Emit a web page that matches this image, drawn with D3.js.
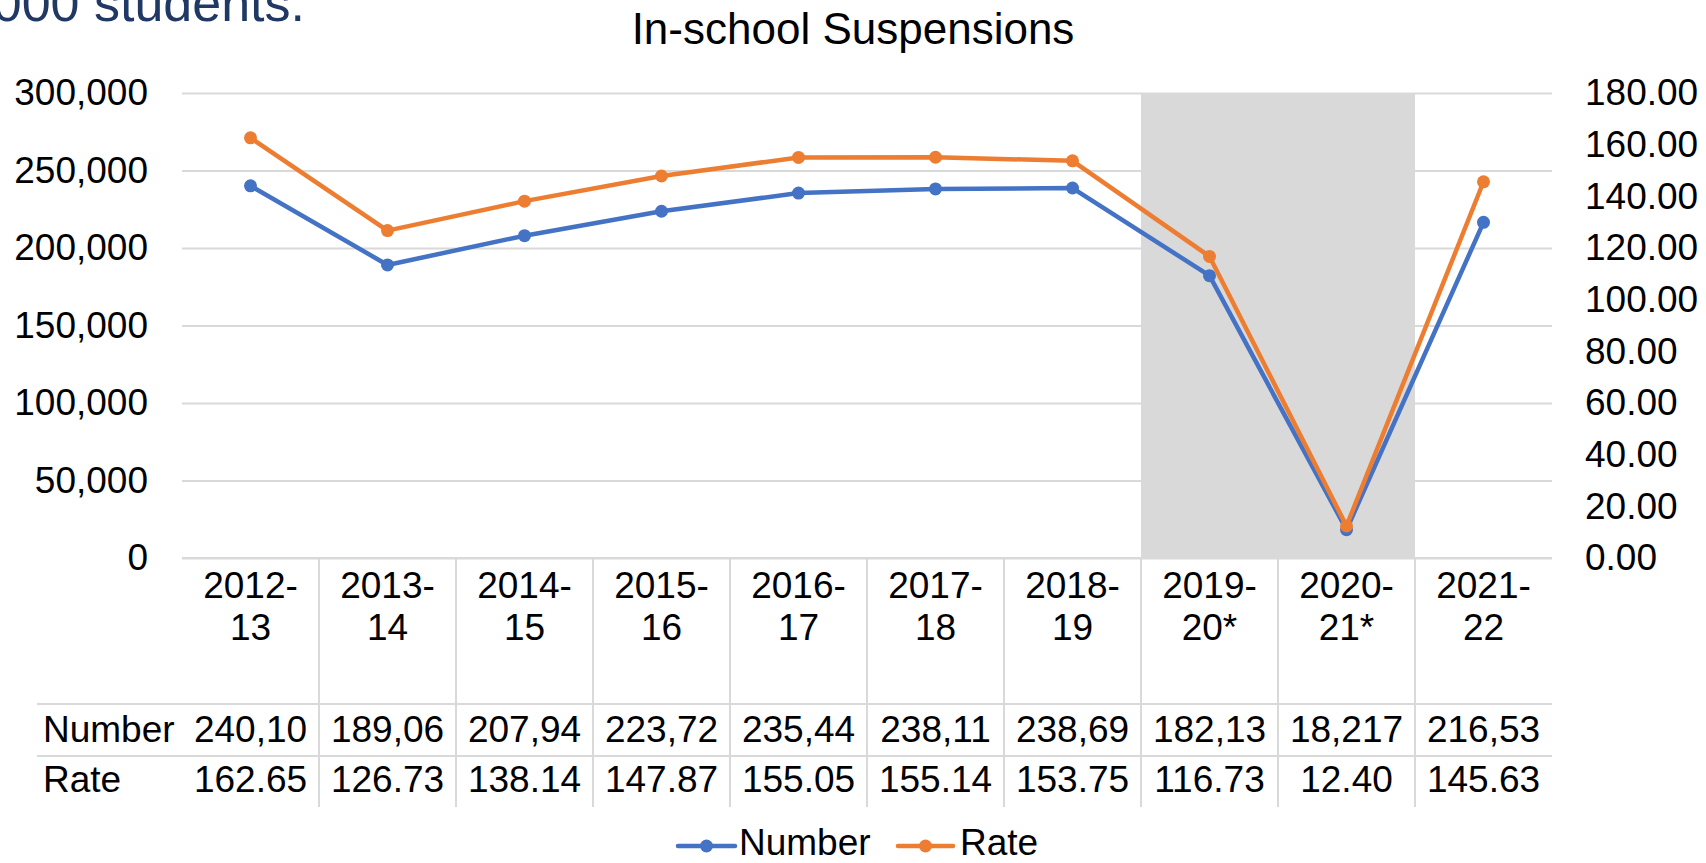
<!DOCTYPE html>
<html>
<head>
<meta charset="utf-8">
<script src="https://cdn.jsdelivr.net/npm/d3@7"></script>
<style>
  body { margin: 0; background: #fff; }
  svg { display: block; font-family: Arial, "Liberation Sans", sans-serif; }
</style>
</head>
<body>
<script>
// school years (header lines split at the dash)
let years = ["2012-13", "2013-14", "2014-15", "2015-16", "2016-17", "2017-18", "2018-19", "2019-20*", "2020-21*", "2021-22"];
// number of in-school suspensions (last digit not readable, table cells clip it)
let numbers = [240104, 189063, 207945, 223725, 235445, 238115, 238695, 182135, 18217, 216535];
// rate
let rates = [162.65, 126.73, 138.14, 147.87, 155.05, 155.14, 153.75, 116.73, 12.40, 145.63];
// covid years get a grey band
let shaded = ["2019-20*", "2020-21*"];
let leftTicks = [0, 50000, 100000, 150000, 200000, 250000, 300000];
let rightTicks = [0, 20, 40, 60, 80, 100, 120, 140, 160, 180];

function init() {
    let W = 1706, H = 863;
    let left = 182, right = 1552, top = 93, bottom = 558;
    let blue = "#4472c4", orange = "#ed7d31", grid = "#d9d9d9";
    let fs = 37;

    const svg = d3.select("body").append("svg")
        .attr("width", W)
        .attr("height", H);

    let x = d3.scaleBand().domain(years).range([left, right]).padding(0);
    let yL = d3.scaleLinear().domain([0, 300000]).range([bottom, top]);
    let yR = d3.scaleLinear().domain([0, 180]).range([bottom, top]);
    let cx = d => x(d) + x.bandwidth() / 2;

    // cut-off slide text at top left
    svg.append("text")
        .attr("x", 305).attr("y", 21)
        .attr("text-anchor", "end")
        .attr("font-size", "52px")
        .attr("fill", "#1f3864")
        .text("000 students.");

    svg.append("text")
        .attr("x", 853).attr("y", 44)
        .attr("text-anchor", "middle")
        .attr("font-size", "44px")
        .attr("fill", "#000")
        .text("In-school Suspensions");

    // grey band
    svg.append("rect")
        .attr("x", x(shaded[0]))
        .attr("y", top)
        .attr("width", x(shaded[shaded.length - 1]) + x.bandwidth() - x(shaded[0]))
        .attr("height", bottom - top)
        .attr("fill", "#d9d9d9");

    // gridlines
    svg.append("g")
        .attr("transform", `translate(${left},0)`)
        .call(d3.axisLeft(yL).tickValues(leftTicks).tickSize(-(right - left)).tickFormat(""))
        .call(g => g.select(".domain").remove())
        .call(g => g.selectAll("line").attr("stroke", grid).attr("stroke-width", 2));

    // left axis labels
    svg.append("g")
        .attr("transform", `translate(148,0)`)
        .call(d3.axisLeft(yL).tickValues(leftTicks).tickSize(0).tickFormat(d3.format(",")))
        .call(g => g.select(".domain").remove())
        .call(g => g.selectAll("text")
            .attr("x", 0)
            .attr("font-size", fs + "px")
            .attr("font-family", "Arial, 'Liberation Sans', sans-serif")
            .attr("fill", "#000"));

    // right axis labels
    svg.append("g")
        .attr("transform", `translate(1585,0)`)
        .call(d3.axisRight(yR).tickValues(rightTicks).tickSize(0).tickFormat(d3.format(".2f")))
        .call(g => g.select(".domain").remove())
        .call(g => g.selectAll("text")
            .attr("x", 0)
            .attr("font-size", fs + "px")
            .attr("font-family", "Arial, 'Liberation Sans', sans-serif")
            .attr("fill", "#000"));

    // data table grid
    let tableLeft = 37, rowSep1 = 704, rowSep2 = 756, tableBottom = 807;
    svg.selectAll(".hline")
        .data([rowSep1, rowSep2])
        .enter()
        .append("line")
        .attr("x1", tableLeft).attr("x2", right)
        .attr("y1", d => d).attr("y2", d => d)
        .attr("stroke", grid).attr("stroke-width", 2);

    svg.selectAll(".vline")
        .data(years.slice(1))
        .enter()
        .append("line")
        .attr("x1", d => x(d)).attr("x2", d => x(d))
        .attr("y1", bottom).attr("y2", tableBottom)
        .attr("stroke", grid).attr("stroke-width", 2);

    // category axis line
    svg.append("line")
        .attr("x1", left).attr("x2", right)
        .attr("y1", bottom).attr("y2", bottom)
        .attr("stroke", grid).attr("stroke-width", 2);

    // header labels, two lines each
    let head = svg.selectAll(".head")
        .data(years)
        .enter()
        .append("text")
        .attr("text-anchor", "middle")
        .attr("font-size", fs + "px")
        .attr("fill", "#000");
    head.append("tspan")
        .attr("x", d => cx(d)).attr("y", 598)
        .text(d => d.split("-")[0] + "-");
    head.append("tspan")
        .attr("x", d => cx(d)).attr("y", 640)
        .text(d => d.split("-")[1]);

    // row labels
    svg.append("text").attr("x", 43).attr("y", 742)
        .attr("font-size", fs + "px").text("Number");
    svg.append("text").attr("x", 43).attr("y", 792)
        .attr("font-size", fs + "px").text("Rate");

    // row values (numbers clipped to 6 characters like the cell)
    svg.selectAll(".numcell")
        .data(numbers)
        .enter()
        .append("text")
        .attr("x", (d, i) => cx(years[i]))
        .attr("y", 742)
        .attr("text-anchor", "middle")
        .attr("font-size", fs + "px")
        .text(d => d3.format(",")(d).slice(0, 6));

    svg.selectAll(".ratecell")
        .data(rates)
        .enter()
        .append("text")
        .attr("x", (d, i) => cx(years[i]))
        .attr("y", 792)
        .attr("text-anchor", "middle")
        .attr("font-size", fs + "px")
        .text(d => d3.format(".2f")(d));

    // lines
    let numLine = d3.line().x((d, i) => cx(years[i])).y(d => yL(d));
    let rateLine = d3.line().x((d, i) => cx(years[i])).y(d => yR(d));

    svg.append("path")
        .attr("d", numLine(numbers))
        .attr("fill", "none")
        .attr("stroke", blue)
        .attr("stroke-width", 4.5)
        .attr("stroke-linejoin", "round");

    svg.selectAll(".numdot")
        .data(numbers)
        .enter()
        .append("circle")
        .attr("cx", (d, i) => cx(years[i]))
        .attr("cy", d => yL(d))
        .attr("r", 6.5)
        .attr("fill", blue);

    svg.append("path")
        .attr("d", rateLine(rates))
        .attr("fill", "none")
        .attr("stroke", orange)
        .attr("stroke-width", 4.5)
        .attr("stroke-linejoin", "round");

    svg.selectAll(".ratedot")
        .data(rates)
        .enter()
        .append("circle")
        .attr("cx", (d, i) => cx(years[i]))
        .attr("cy", d => yR(d))
        .attr("r", 6.5)
        .attr("fill", orange);

    // legend
    let legend = [
        { name: "Number", color: blue, x1: 678, x2: 735, tx: 739 },
        { name: "Rate", color: orange, x1: 898, x2: 953, tx: 960 }
    ];
    let lg = svg.selectAll(".legend")
        .data(legend)
        .enter()
        .append("g");
    lg.append("line")
        .attr("x1", d => d.x1).attr("x2", d => d.x2)
        .attr("y1", 846).attr("y2", 846)
        .attr("stroke", d => d.color)
        .attr("stroke-width", 4.5)
        .attr("stroke-linecap", "round");
    lg.append("circle")
        .attr("cx", d => (d.x1 + d.x2) / 2)
        .attr("cy", 846)
        .attr("r", 6.5)
        .attr("fill", d => d.color);
    lg.append("text")
        .attr("x", d => d.tx)
        .attr("y", 855)
        .attr("font-size", fs + "px")
        .text(d => d.name);
}

init();
</script>
</body>
</html>
